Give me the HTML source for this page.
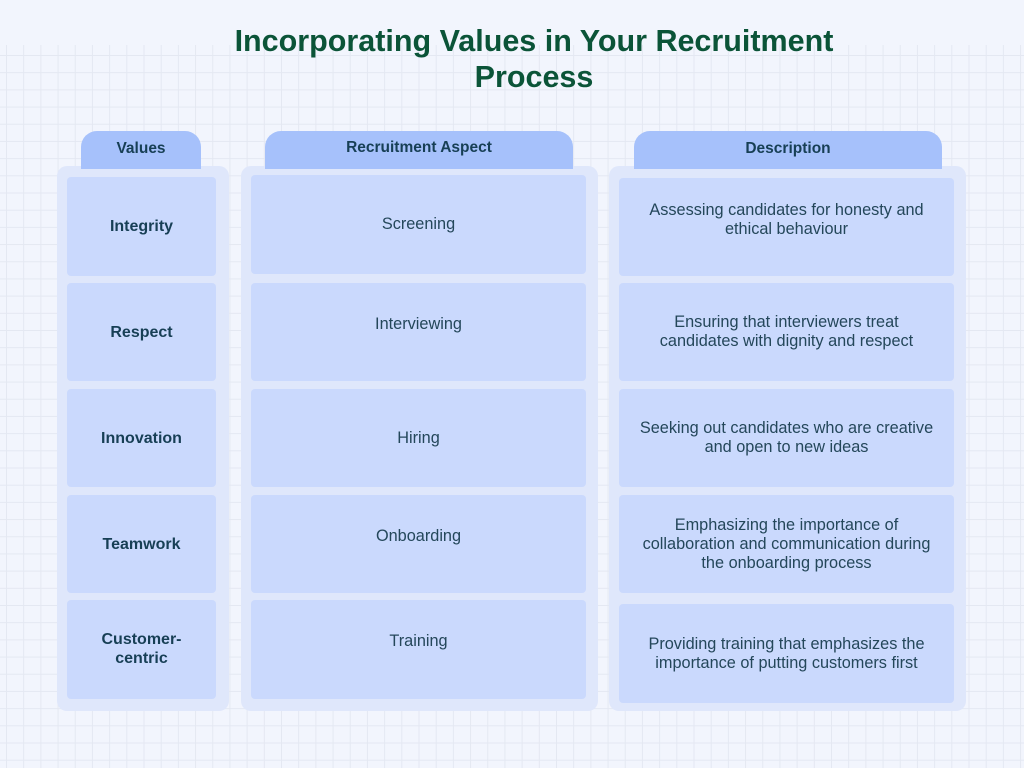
<!DOCTYPE html>
<html><head><meta charset="utf-8">
<style>
*{margin:0;padding:0;box-sizing:border-box}
body{width:1024px;height:768px;position:relative;overflow:hidden;background:#f2f5fd;font-family:"Liberation Sans",sans-serif}
.grid{position:absolute;left:0;top:45px;width:1024px;height:723px;
background-image:linear-gradient(to right,#e4e8f2 1px,transparent 1px),linear-gradient(to bottom,#e4e8f2 1px,transparent 1px);
background-size:17.2px 17.2px;background-position:6px 10px}
.title{position:absolute;left:0;width:1068px;top:23px;text-align:center;font-size:30.5px;font-weight:bold;color:#0b5438;line-height:36px}
.tab{position:absolute;top:131px;height:38px;background:#a6c1fb;border-radius:16px 16px 0 0;text-align:center;font-size:15.5px;font-weight:bold;color:#173f55;line-height:36px}
.panel{position:absolute;top:166px;background:#dfe7fb;border-radius:10px}
.cell{position:absolute;background:#cad9fd;border-radius:4px;display:flex;align-items:center;justify-content:center;text-align:center;font-size:16.3px;color:#24475a;line-height:19px}
.b{font-weight:bold;color:#173f55;font-size:16px}
</style></head><body>
<div class="grid"></div>
<div class="title">Incorporating Values in Your Recruitment<br>Process</div>

<div class="panel" style="left:57px;width:172px;height:545px"></div>
<div class="panel" style="left:241px;width:357px;height:545px"></div>
<div class="panel" style="left:609px;width:357px;height:545px"></div>

<div class="tab" style="left:81px;width:120px">Values</div>
<div class="tab" style="left:265px;width:308px;line-height:34px">Recruitment Aspect</div>
<div class="tab" style="left:634px;width:308px">Description</div>

<div class="cell b" style="left:67px;top:177px;width:149px;height:99px">Integrity</div>
<div class="cell b" style="left:67px;top:283px;width:149px;height:98px">Respect</div>
<div class="cell b" style="left:67px;top:389px;width:149px;height:98px">Innovation</div>
<div class="cell b" style="left:67px;top:495px;width:149px;height:98px">Teamwork</div>
<div class="cell b" style="left:67px;top:600px;width:149px;height:99px;padding-bottom:2px">Customer-<br>centric</div>

<div class="cell" style="left:251px;top:175px;width:335px;height:99px">Screening</div>
<div class="cell" style="left:251px;top:283px;width:335px;height:98px;padding-bottom:16px">Interviewing</div>
<div class="cell" style="left:251px;top:389px;width:335px;height:98px">Hiring</div>
<div class="cell" style="left:251px;top:495px;width:335px;height:98px;padding-bottom:16px">Onboarding</div>
<div class="cell" style="left:251px;top:600px;width:335px;height:99px;padding-bottom:17px">Training</div>

<div class="cell" style="left:619px;top:178px;width:335px;height:98px;padding-bottom:14px">Assessing candidates for honesty and<br>ethical behaviour</div>
<div class="cell" style="left:619px;top:283px;width:335px;height:98px">Ensuring that interviewers treat<br>candidates with dignity and respect</div>
<div class="cell" style="left:619px;top:389px;width:335px;height:98px">Seeking out candidates who are creative<br>and open to new ideas</div>
<div class="cell" style="left:619px;top:495px;width:335px;height:98px">Emphasizing the importance of<br>collaboration and communication during<br>the onboarding process</div>
<div class="cell" style="left:619px;top:604px;width:335px;height:99px">Providing training that emphasizes the<br>importance of putting customers first</div>
</body></html>
